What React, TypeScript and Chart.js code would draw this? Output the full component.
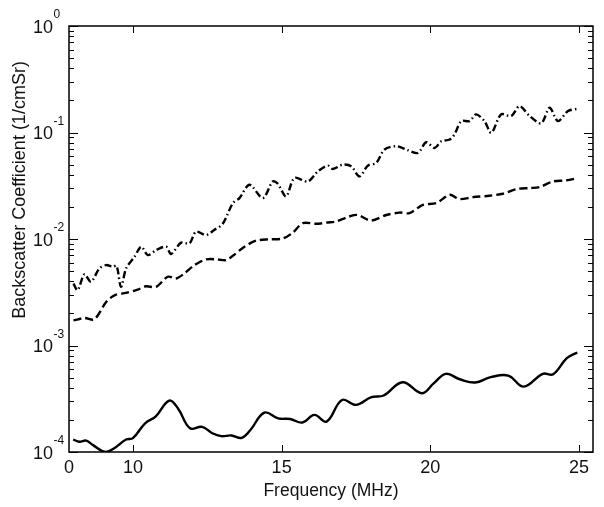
import React, { useEffect, useRef } from 'react';
import { Chart, registerables } from 'chart.js';
Chart.register(...registerables);

// ---- data ----
const solidFreq = [7.99, 8.2, 8.43, 8.66, 9.07, 9.36, 9.77, 10.0, 10.41, 10.76, 11.22, 11.51, 11.92, 12.33, 12.67, 12.97, 13.31, 13.66, 13.95, 14.42, 14.88, 15.29, 15.7, 16.1, 16.51, 17.03, 17.5, 18.02, 18.43, 19.07, 19.71, 20.12, 20.52, 20.99, 21.51, 22.03, 22.62, 23.14, 23.78, 24.13, 24.59, 24.94];
const solidVals = [1.31e-4, 1.25e-4, 1.28e-4, 1.16e-4, 1.0e-4, 1.08e-4, 1.31e-4, 1.35e-4, 1.86e-4, 2.15e-4, 3.04e-4, 2.58e-4, 1.67e-4, 1.72e-4, 1.5e-4, 1.41e-4, 1.43e-4, 1.36e-4, 1.61e-4, 2.34e-4, 2.07e-4, 2.04e-4, 1.89e-4, 2.23e-4, 1.93e-4, 3.08e-4, 2.77e-4, 3.27e-4, 3.39e-4, 4.52e-4, 3.56e-4, 4.43e-4, 5.42e-4, 4.82e-4, 4.49e-4, 5.04e-4, 5.22e-4, 4.11e-4, 5.42e-4, 5.37e-4, 7.6e-4, 8.6e-4];

const dashedFreq = [8.0, 8.37, 8.7, 9.1, 9.38, 9.77, 10.16, 10.44, 10.78, 11.17, 11.45, 11.73, 12.07, 12.46, 12.85, 13.13, 13.36, 13.75, 14.14, 14.59, 15.04, 15.38, 15.71, 16.16, 16.55, 16.83, 17.28, 17.56, 18.01, 18.52, 18.96, 19.3, 19.75, 20.2, 20.65, 20.98, 21.43, 21.99, 22.44, 22.89, 23.34, 23.67, 24.12, 24.57, 24.96];
const dashedVals = [1.72e-3, 1.81e-3, 1.76e-3, 2.56e-3, 2.96e-3, 3.12e-3, 3.35e-3, 3.6e-3, 3.55e-3, 4.42e-3, 4.26e-3, 4.75e-3, 5.69e-3, 6.43e-3, 6.43e-3, 6.33e-3, 6.96e-3, 8.47e-3, 9.64e-3, 9.93e-3, 1.01e-2, 1.15e-2, 1.41e-2, 1.39e-2, 1.43e-2, 1.46e-2, 1.63e-2, 1.68e-2, 1.49e-2, 1.68e-2, 1.77e-2, 1.75e-2, 2.09e-2, 2.17e-2, 2.6e-2, 2.37e-2, 2.47e-2, 2.55e-2, 2.66e-2, 2.94e-2, 3.01e-2, 3.07e-2, 3.47e-2, 3.55e-2, 3.74e-2];

const dashDotFreq = [8.0, 8.14, 8.37, 8.59, 8.87, 9.1, 9.32, 9.45, 9.6, 9.77, 10.05, 10.28, 10.5, 10.78, 11.12, 11.28, 11.62, 11.9, 12.12, 12.46, 12.74, 13.02, 13.36, 13.58, 13.92, 14.37, 14.7, 14.87, 15.15, 15.43, 15.88, 16.22, 16.55, 16.72, 17.06, 17.34, 17.62, 17.9, 18.18, 18.46, 18.86, 19.25, 19.58, 19.86, 20.14, 20.37, 20.65, 20.81, 21.04, 21.32, 21.54, 21.82, 22.05, 22.38, 22.72, 23.0, 23.34, 23.73, 24.01, 24.29, 24.63, 24.96];
const dashDotVals = [3.82e-3, 3.3e-3, 4.67e-3, 3.96e-3, 5.29e-3, 5.69e-3, 5.48e-3, 5.6e-3, 3.55e-3, 5.29e-3, 6.8e-3, 8.47e-3, 7.06e-3, 7.87e-3, 8.47e-3, 7.22e-3, 9.24e-3, 9.1e-3, 1.17e-2, 1.09e-2, 1.22e-2, 1.39e-2, 2.17e-2, 2.42e-2, 3.23e-2, 2.42e-2, 3.47e-2, 3.3e-2, 2.51e-2, 3.74e-2, 3.47e-2, 4.32e-2, 4.89e-2, 4.54e-2, 4.99e-2, 4.81e-2, 3.87e-2, 4.89e-2, 5.18e-2, 6.92e-2, 7.43e-2, 6.81e-2, 6.43e-2, 8.1e-2, 7.16e-2, 8.27e-2, 8.59e-2, 9.58e-2, 0.128, 0.128, 0.148, 0.128, 0.0993, 0.148, 0.143, 0.177, 0.143, 0.122, 0.171, 0.128, 0.159, 0.167];

const xMin = 7.85;
const xMax = 25.47;
const xTickValues = [xMin, 10, 15, 20, 25];
const xTickLabels = ['0', '10', '15', '20', '25'];
const yMin = 1e-4;
const yMax = 1;
const yDecadeExps = [0, -1, -2, -3, -4];
const yTitle = 'Backscatter Coefficient (1/cmSr)';
const xTitle = 'Frequency (MHz)';

const FONT = '"Liberation Sans", Arial, Helvetica, sans-serif';

const toPoints = (xs: number[], ys: number[]) => xs.map((x, i) => ({ x, y: ys[i] }));

const framePlugin = {
  id: 'matlabFrame',
  afterDraw(chart: any) {
    const { ctx, chartArea: a, scales } = chart;
    const xs = scales.x;
    const ys = scales.y;
    ctx.save();
    ctx.strokeStyle = '#000';
    ctx.lineWidth = 1.5;
    ctx.strokeRect(a.left, a.top, a.right - a.left, a.bottom - a.top);

    ctx.lineWidth = 1;
    ctx.beginPath();
    xTickValues.forEach((v) => {
      if (v <= xMin) return;
      const px = Math.round(xs.getPixelForValue(v)) + 0.5;
      ctx.moveTo(px, a.bottom);
      ctx.lineTo(px, a.bottom - 7);
      ctx.moveTo(px, a.top);
      ctx.lineTo(px, a.top + 7);
    });
    yDecadeExps.forEach((e) => {
      for (let m = 1; m <= 9; m++) {
        const v = m * Math.pow(10, e);
        if (v > yMax * 1.0001 || v < yMin * 0.9999) continue;
        const py = Math.round(ys.getPixelForValue(v)) + 0.5;
        const len = m === 1 ? 9 : 5;
        ctx.moveTo(a.left, py);
        ctx.lineTo(a.left + len, py);
        ctx.moveTo(a.right, py);
        ctx.lineTo(a.right - len, py);
      }
    });
    ctx.stroke();

    ctx.fillStyle = '#111';
    // x tick labels
    ctx.font = `18px ${FONT}`;
    ctx.textAlign = 'center';
    ctx.textBaseline = 'alphabetic';
    xTickValues.forEach((v, i) => {
      const px = xs.getPixelForValue(v);
      ctx.fillText(xTickLabels[i], px, a.bottom + 21);
    });
    // y tick labels with superscript exponents
    yDecadeExps.forEach((e) => {
      const py = ys.getPixelForValue(Math.pow(10, e));
      ctx.font = `18px ${FONT}`;
      ctx.textAlign = 'left';
      const base = '10';
      const bx = 33;
      ctx.fillText(base, bx, py + 6.5);
      const w = ctx.measureText(base).width;
      ctx.font = `12px ${FONT}`;
      ctx.fillText(e === 0 ? '0' : '-' + String(-e), bx + w + 0.5, py - 8);
    });
    // axis titles
    ctx.font = `17.5px ${FONT}`;
    ctx.textAlign = 'center';
    ctx.fillText(xTitle, (a.left + a.right) / 2, 496);
    ctx.save();
    ctx.translate(25, 190);
    ctx.rotate(-Math.PI / 2);
    ctx.font = `18px ${FONT}`;
    ctx.fillText(yTitle, 0, 0);
    ctx.restore();
    ctx.restore();
  },
};

export default function App() {
  const ref = useRef<HTMLCanvasElement | null>(null);
  useEffect(() => {
    if (!ref.current) return;
    const chart = new Chart(ref.current, {
      type: 'line',
      data: {
        datasets: [
          {
            label: 'solid',
            data: toPoints(solidFreq, solidVals),
            borderColor: '#000',
            borderWidth: 2.4,
            pointRadius: 0,
            tension: 0.4,
            fill: false,
          },
          {
            label: 'dashed',
            data: toPoints(dashedFreq, dashedVals),
            borderColor: '#000',
            borderWidth: 2.4,
            borderDash: [8, 4],
            pointRadius: 0,
            tension: 0.3,
            fill: false,
          },
          {
            label: 'dash-dot',
            data: toPoints(dashDotFreq, dashDotVals),
            borderColor: '#000',
            borderWidth: 2.4,
            borderDash: [7, 3, 1.5, 3],
            pointRadius: 0,
            tension: 0.3,
            fill: false,
          },
        ],
      },
      options: {
        responsive: false,
        animation: false,
        devicePixelRatio: 1,
        layout: { padding: { left: 69, right: 11, top: 26, bottom: 55 } },
        plugins: { legend: { display: false }, tooltip: { enabled: false } },
        scales: {
          x: { type: 'linear', min: xMin, max: xMax, display: false },
          y: { type: 'logarithmic', min: yMin, max: yMax, display: false },
        },
      },
      plugins: [framePlugin],
    });
    return () => chart.destroy();
  }, []);
  return (
    <div style={{ position: 'absolute', left: 0, top: 0, width: 604, height: 507, background: '#fff' }}>
      <canvas ref={ref} width={604} height={507} />
    </div>
  );
}
